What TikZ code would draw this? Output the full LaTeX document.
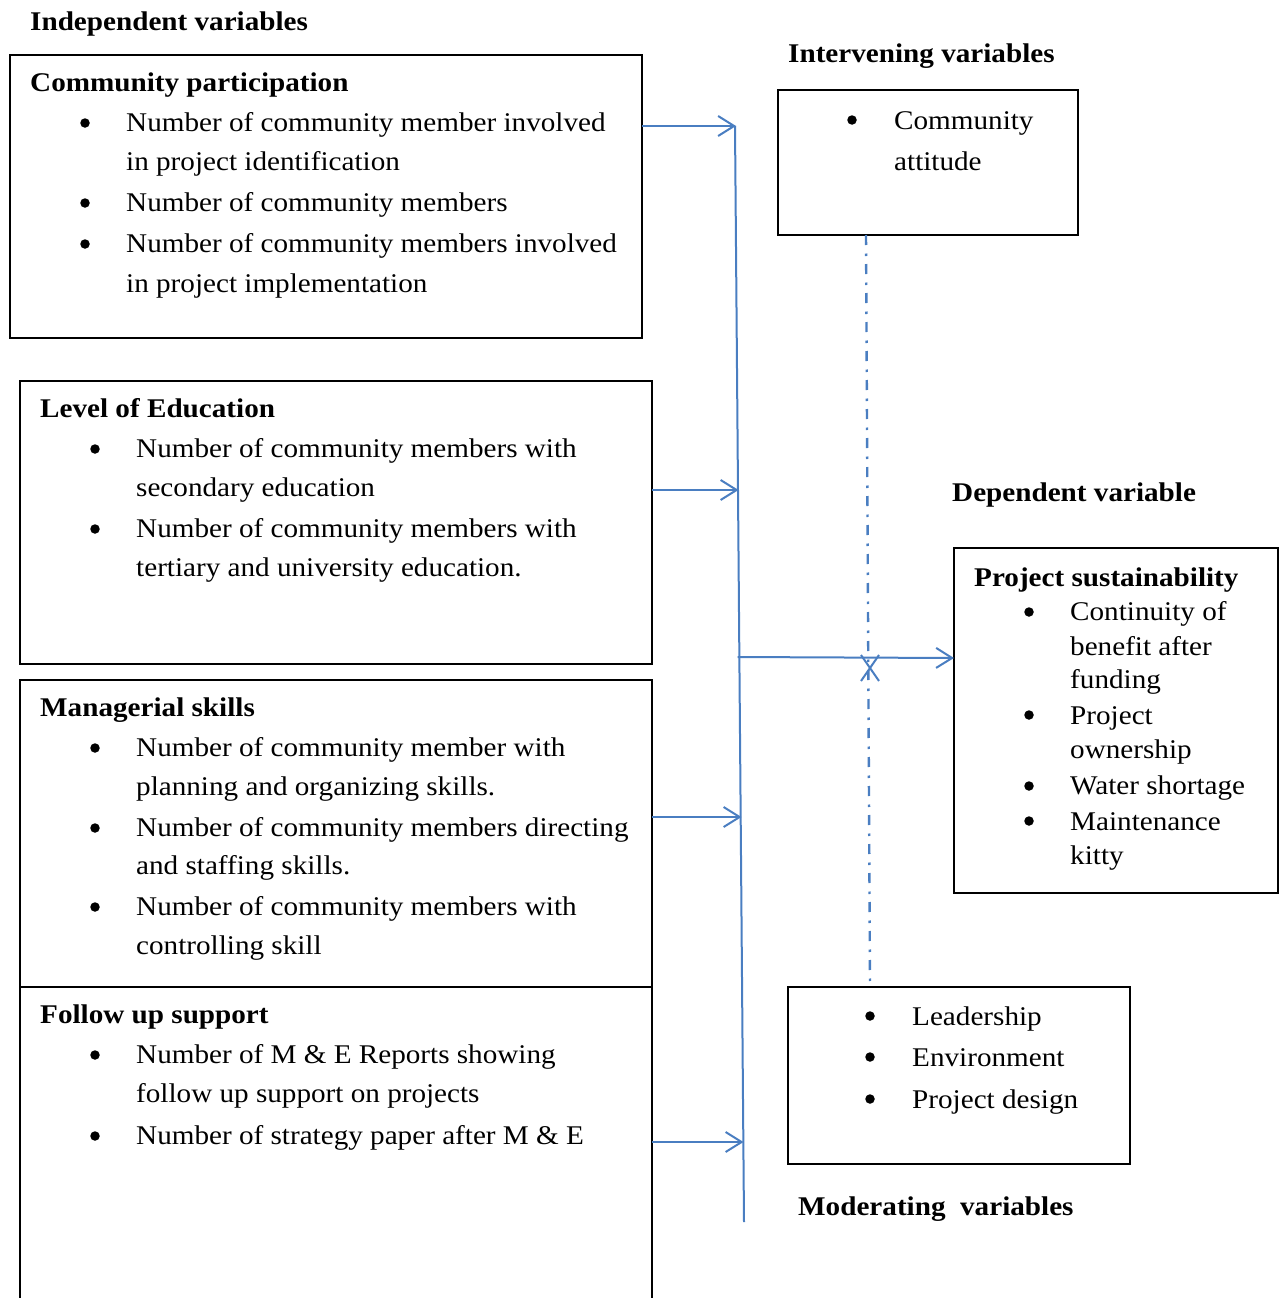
\documentclass[tikz,border=0pt]{standalone}
\usepackage{fontspec}
\setmainfont[FakeStretch=1.08]{Liberation Serif}
\usetikzlibrary{arrows.meta,calc}
\definecolor{lblue}{RGB}{74,126,193}
\begin{document}
\begin{tikzpicture}[x=1pt,y=-1pt,
  box/.style={draw=black,line width=1.3pt,anchor=north west,inner sep=0pt,outer sep=0pt},
  txt/.style={anchor=base west,inner sep=0pt,font=\fontsize{27}{32}\selectfont},
  hd/.style={anchor=base west,inner sep=0pt,font=\fontsize{27}{32}\selectfont\bfseries},
  bul/.style={circle,fill=black,inner sep=0pt,minimum size=9.5pt},
  vline/.style={draw=lblue,line width=2pt},
  conn/.style={draw=lblue,line width=2pt,-{Straight Barb[length=16pt,width=20pt,line width=2pt]}},
  dd/.style={draw=lblue,line width=2.4pt,dash pattern=on 10pt off 8.5pt on 2.5pt off 8pt},
]
\useasboundingbox (0,0) rectangle (1286,1298);
\clip (0,0) rectangle (1286,1298);

% boxes
\node[box,minimum width=632pt,minimum height=283pt] (b1) at (10,55) {};
\node[box,minimum width=632pt,minimum height=283pt] (b2) at (20,381) {};
\node[box,minimum width=632pt,minimum height=307pt] (b3) at (20,680) {};
\node[box,minimum width=632pt,minimum height=340pt] (b4) at (20,987) {};
\node[box,minimum width=300pt,minimum height=145pt] (ib) at (778,90) {};
\node[box,minimum width=324pt,minimum height=345pt] (ps) at (954,548) {};
\node[box,minimum width=342pt,minimum height=177pt] (mb) at (788,987) {};

% titles
\node[hd] (tind) at (30,31) {Independent variables};
\node[hd] (tint) at (788,63) {Intervening variables};
\node[hd] (tdep) at (952,501) {Dependent variable};
\node[hd] (tmod) at (798,1215) {Moderating\ \ variables};

% box 1
\node[hd] (h1) at (30,91) {Community participation};
\node[bul] (p11) at (85,123) {};
\node[txt] (l11) at (126,131) {Number of community member involved};
\node[txt] (l12) at (126,170) {in project identification};
\node[bul] (p12) at (85,203) {};
\node[txt] (l13) at (126,211) {Number of community members};
\node[bul] (p13) at (85,244) {};
\node[txt] (l14) at (126,252) {Number of community members involved};
\node[txt] (l15) at (126,292) {in project implementation};

% box 2
\node[hd] (h2) at (40,417) {Level of Education};
\node[bul] (p21) at (95,449) {};
\node[txt] (l21) at (136,457) {Number of community members with};
\node[txt] (l22) at (136,496) {secondary education};
\node[bul] (p22) at (95,529) {};
\node[txt] (l23) at (136,537) {Number of community members with};
\node[txt] (l24) at (136,576) {tertiary and university education.};

% box 3
\node[hd] (h3) at (40,716) {Managerial skills};
\node[bul] (p31) at (95,748) {};
\node[txt] (l31) at (136,756) {Number of community member with};
\node[txt] (l32) at (136,795) {planning and organizing skills.};
\node[bul] (p32) at (95,828) {};
\node[txt] (l33) at (136,836) {Number of community members directing};
\node[txt] (l34) at (136,874) {and staffing skills.};
\node[bul] (p33) at (95,907) {};
\node[txt] (l35) at (136,915) {Number of community members with};
\node[txt] (l36) at (136,954) {controlling skill};

% box 4
\node[hd] (h4) at (40,1023) {Follow up support};
\node[bul] (p41) at (95,1055) {};
\node[txt] (l41) at (136,1063) {Number of M \& E Reports showing};
\node[txt] (l42) at (136,1102) {follow up support on projects};
\node[bul] (p42) at (95,1136) {};
\node[txt] (l43) at (136,1144) {Number of strategy paper after M \& E};

% intervening box
\node[bul] (pi1) at (852,120) {};
\node[txt] (li1) at (894,129) {Community};
\node[txt] (li2) at (894,170) {attitude};

% project sustainability box
\node[hd] (h5) at (974,586) {Project sustainability};
\node[bul] (p51) at (1029,612) {};
\node[txt] (l51) at (1070,620) {Continuity of};
\node[txt] (l52) at (1070,655) {benefit after};
\node[txt] (l53) at (1070,688) {funding};
\node[bul] (p52) at (1029,715) {};
\node[txt] (l54) at (1070,724) {Project};
\node[txt] (l55) at (1070,758) {ownership};
\node[bul] (p53) at (1029,786) {};
\node[txt] (l56) at (1070,794) {Water shortage};
\node[bul] (p54) at (1029,821) {};
\node[txt] (l57) at (1070,830) {Maintenance};
\node[txt] (l58) at (1070,864) {kitty};

% moderating box
\node[bul] (pm1) at (870,1016) {};
\node[txt] (lm1) at (912,1025) {Leadership};
\node[bul] (pm2) at (870,1057) {};
\node[txt] (lm2) at (912,1066) {Environment};
\node[bul] (pm3) at (870,1099) {};
\node[txt] (lm3) at (912,1108) {Project design};

% connectors
\coordinate (vtop) at (735,126);
\coordinate (vbot) at (744,1222);
\draw[vline] (vtop) -- (vbot);
\coordinate (v1) at (736,126);
\coordinate (v2) at (738.5,490);
\coordinate (v3) at (741.5,817);
\coordinate (v4) at (743.5,1142);
\coordinate (v0) at (737.5,657);
\draw[conn] (b1.east |- v1) -- (v1);
\draw[conn] (b2.east |- v2) -- (v2);
\draw[conn] (b3.east |- v3) -- (v3);
\draw[conn] (b4.east |- v4) -- (v4);
\draw[conn] (v0) -- ($(ps.west |- v0)+(0,1)$);

\draw[dd] ($(ib.south west)+(88,0)$) -- ($(mb.north west)+(82,0)$);
\coordinate (xm) at (870,668);
\draw[lblue,line width=2pt] ($(xm)+(-9,-13)$) -- ($(xm)+(9,13)$);
\draw[lblue,line width=2pt] ($(xm)+(9,-13)$) -- ($(xm)+(-9,13)$);
\end{tikzpicture}
\end{document}
